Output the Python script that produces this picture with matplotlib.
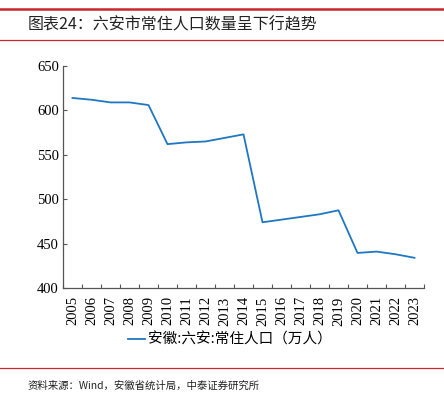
import matplotlib
matplotlib.use("Agg")
import matplotlib.pyplot as plt
from matplotlib.lines import Line2D

plt.rcParams['font.family'] = ['Liberation Serif', 'Noto Sans CJK SC', 'DejaVu Sans']

years = ["2005", "2006", "2007", "2008", "2009", "2010", "2011", "2012", "2013", "2014",
         "2015", "2016", "2017", "2018", "2019", "2020", "2021", "2022", "2023"]
population = [614, 612, 609, 609, 606, 562, 564, 565, 569, 573,
              474, 477, 480, 483, 487.5, 439.5, 441, 438, 434]
series_name = "安徽:六安:常住人口（万人）"
title = "图表24：六安市常住人口数量呈下行趋势"
source = "资料来源：Wind，安徽省统计局，中泰证券研究所"
yticks = [400, 450, 500, 550, 600, 650]

W, H = 444, 395
fig = plt.figure(figsize=(W / 100, H / 100), dpi=100)

def fy(py):
    return 1 - py / H

ax = fig.add_axes([63 / W, fy(288), (424 - 63) / W, (288 - 66) / H])
x = list(range(len(years)))
ax.plot(x, population, color='#1F77C4', linewidth=1.3)
ax.set_xlim(-0.5, len(years) - 0.5)
ax.set_ylim(400, 650)
ax.set_yticks(yticks)
ax.set_yticklabels([str(v) for v in yticks], fontsize=10.5, family='Liberation Serif')
ax.set_xticks([i - 0.5 for i in range(len(years) + 1)], minor=False)
ax.set_xticklabels([])
ax.set_xticks(x, minor=True)
ax.set_xticklabels(years, minor=True, rotation=90, fontsize=10.5, family='Liberation Serif')
ax.tick_params(axis='x', which='minor', length=0, pad=6)
ax.tick_params(axis='x', which='major', direction='in', length=3, color='#555555')
ax.tick_params(axis='y', direction='in', length=3, color='#555555', pad=3)
for s in ['top', 'right']:
    ax.spines[s].set_visible(False)
for s in ['left', 'bottom']:
    ax.spines[s].set_color('#555555')
    ax.spines[s].set_linewidth(0.9)

fig.legend([Line2D([0], [0], color='#1F77C4', linewidth=1.3)], [series_name],
           loc='center', bbox_to_anchor=(230 / W, fy(340)), frameon=False,
           prop={'family': ['Noto Sans CJK SC'], 'size': 10.5}, handlelength=1.2,
           handletextpad=0.2)

red = '#C8282D'
fig.add_artist(Line2D([0, 1], [fy(8.5), fy(8.5)], color=red, linewidth=1.8, transform=fig.transFigure))
fig.add_artist(Line2D([0, 1], [fy(40), fy(40)], color=red, linewidth=0.9, transform=fig.transFigure))
fig.add_artist(Line2D([0, 1], [fy(368), fy(368)], color=red, linewidth=0.9, transform=fig.transFigure))

fig.text(28 / W, fy(25), title, fontsize=11.5, va='center', ha='left',
         family=['Noto Sans CJK SC'], color='#222222')
fig.text(28 / W, fy(381), source, fontsize=7.5, va='top', ha='left',
         family=['Noto Sans CJK SC'], color='#222222')

fig.savefig("out.png", dpi=100)
